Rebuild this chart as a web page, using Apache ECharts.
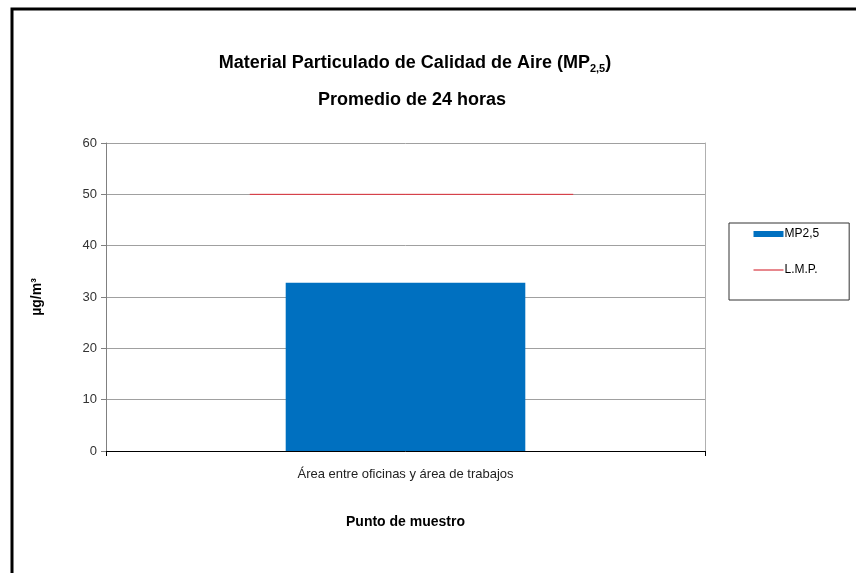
<!DOCTYPE html>
<html>
<head>
<meta charset="utf-8">
<script src="https://cdn.jsdelivr.net/npm/echarts@6/dist/echarts.min.js"></script>
<style>
html,body{margin:0;padding:0;background:#fff;}
#main{width:856px;height:573px;}
</style>
</head>
<body>
<div id="main"></div>
<script>
// datos
var categorias = ['Área entre oficinas y área de trabajos'];
var mp25 = [32.8];
var lmp = 50;           // limite maximo permisible
var lmpTramo = [0.24, 0.78]; // tramo horizontal de la linea L.M.P. (fraccion del eje)
var yTicks = [0, 60, 10]; // min, max, intervalo

var fuente = "'Liberation Sans Narrow','Liberation Sans',Arial,sans-serif";

var lineaLmp = [];
for (var i = 0; i < lmpTramo.length; i++) {
	lineaLmp.push([lmpTramo[i], lmp]);
}

var myChart = echarts.init(document.getElementById('main'));
var option = {
	backgroundColor: '#fff',
	animation: false,
	title: [{
		text: '{a|Material Particulado de Calidad de Aire (MP}{s|2,5}{a|)}',
		left: 410,
		textAlign: 'center',
		top: 48,
		textStyle: {
			rich: {
				a: {fontFamily: fuente, fontSize: 18, fontWeight: 'bold', color: '#000'},
				s: {fontFamily: fuente, fontSize: 11, fontWeight: 'bold', color: '#000', padding: [10, 0, 0, 0]}
			}
		}
	}, {
		text: 'Promedio de 24 horas',
		left: 407,
		textAlign: 'center',
		top: 86,
		textStyle: {fontFamily: fuente, fontSize: 18, fontWeight: 'bold', color: '#000'}
	}],
	legend: {
		orient: 'vertical',
		left: 729,
		top: 223,
		width: 119,
		height: 75,
		padding: [5, 30, 24, 24],
		borderColor: '#333',
		borderWidth: 1,
		itemWidth: 30,
		itemHeight: 6,
		itemGap: 24,
		textStyle: {fontFamily: fuente, fontSize: 12, color: '#000', padding: [0, 0, 0, -4]},
		data: [
			{name: 'MP2,5', icon: 'rect'},
			{name: 'L.M.P.', itemStyle: {opacity: 0}, lineStyle: {color: '#D0101C', width: 1, opacity: 1}}
		]
	},
	grid: {left: 106, right: 151, top: 143, bottom: 122},
	xAxis: [{
		type: 'category',
		data: categorias,
		name: 'Punto de muestro',
		nameLocation: 'middle',
		nameGap: 64,
		nameTextStyle: {fontFamily: fuente, fontSize: 14, fontWeight: 'bold', color: '#000'},
		axisLine: {lineStyle: {color: '#000', width: 1}},
		axisTick: {show: true, length: 5, lineStyle: {color: '#000'}},
		axisLabel: {fontFamily: fuente, fontSize: 13, color: '#222', margin: 17}
	}, {
		type: 'value',
		min: 0,
		max: 1,
		show: false
	}],
	yAxis: [{
		type: 'value',
		min: yTicks[0],
		max: yTicks[1],
		interval: yTicks[2],
		name: 'µg/m³',
		nameLocation: 'middle',
		nameGap: 62,
		nameRotate: 90,
		nameTextStyle: {fontFamily: fuente, fontSize: 14, fontWeight: 'bold', color: '#000'},
		axisLine: {show: true, lineStyle: {color: '#808080'}},
		axisTick: {show: true, length: 5, lineStyle: {color: '#808080'}},
		axisLabel: {fontFamily: fuente, fontSize: 13, color: '#333', margin: 9},
		splitLine: {lineStyle: {color: '#a0a0a0'}}
	}, {
		type: 'value',
		min: yTicks[0],
		max: yTicks[1],
		position: 'right',
		axisLine: {show: true, lineStyle: {color: '#b0b0b0'}},
		axisTick: {show: false},
		axisLabel: {show: false},
		splitLine: {show: false}
	}],
	series: [{
		name: 'MP2,5',
		type: 'bar',
		barWidth: '40%',
		itemStyle: {color: '#0070C0'},
		data: mp25
	}, {
		name: 'L.M.P.',
		type: 'line',
		xAxisIndex: 1,
		yAxisIndex: 0,
		symbol: 'none',
		lineStyle: {color: '#E0303A', width: 1},
		itemStyle: {color: '#E0303A'},
		data: lineaLmp
	}],
	graphic: [{
		type: 'polyline',
		shape: {points: [[12, 580], [12, 9], [860, 9]]},
		style: {stroke: '#000', lineWidth: 3, fill: null}
	}]
};
myChart.setOption(option);
</script>
</body>
</html>
